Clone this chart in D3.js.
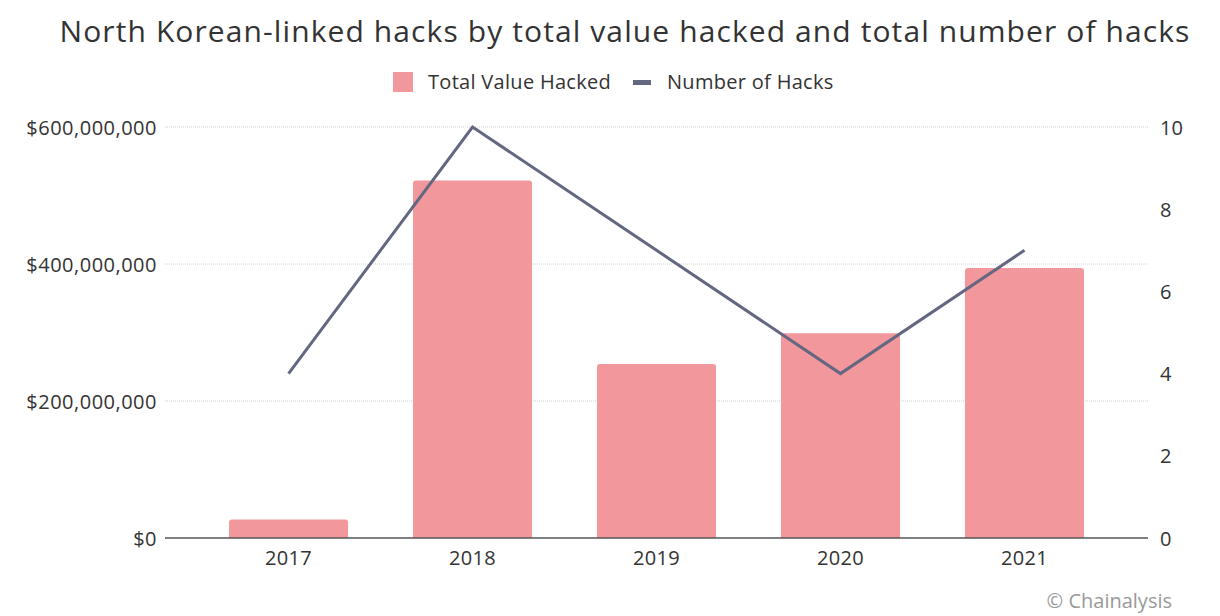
<!DOCTYPE html>
<html>
<head>
<meta charset="utf-8">
<script src="https://cdn.jsdelivr.net/npm/d3@7"></script>
<style>
	body { margin: 0; background: #fff; }
	text { font-family: 'Open Sans', sans-serif; fill: #333; }
	.grid line { stroke: #d0d0d0; stroke-dasharray: 1 1; }
</style>
</head>
<body>
<svg id="chart" width="1220" height="616"></svg>
<script>
// Values
var years = ['2017', '2018', '2019', '2020', '2021'];
var totalValueHacked = [27000000, 522000000, 254000000, 299000000, 394000000];
var numberOfHacks = [4, 10, 7, 4, 7];
var valueTicks = [0, 200000000, 400000000, 600000000];
var countTicks = [0, 2, 4, 6, 8, 10];

var margin = {top: 127, right: 72, bottom: 78, left: 165};
var W = 1220, H = 616;
var svg = d3.select('#chart');

var x = d3.scaleBand().domain(years)
	.range([margin.left, W - margin.right])
	.paddingInner(0.353).paddingOuter(0.348);
var yLeft = d3.scaleLinear().domain([0, 600000000]).range([H - margin.bottom, margin.top]);
var yRight = d3.scaleLinear().domain([0, 10]).range([H - margin.bottom, margin.top]);

// Title
svg.append('text')
	.attr('x', 625).attr('y', 42)
	.attr('text-anchor', 'middle')
	.style('font-size', '30px')
	.style('letter-spacing', '1.1px')
	.text('North Korean-linked hacks by total value hacked and total number of hacks');

// Legend
var legend = svg.append('g');
legend.append('rect').attr('x', 393).attr('y', 72).attr('width', 20).attr('height', 20).attr('fill', '#f2979b');
legend.append('text').attr('x', 428).attr('y', 89).style('font-size', '20px').style('letter-spacing', '0.3px').text('Total Value Hacked');
legend.append('rect').attr('x', 633).attr('y', 80).attr('width', 18).attr('height', 5).attr('fill', '#636780');
legend.append('text').attr('x', 667).attr('y', 89).style('font-size', '20px').style('letter-spacing', '0.3px').text('Number of Hacks');

// Gridlines
svg.append('g').attr('class', 'grid')
	.selectAll('line').data(valueTicks.slice(1)).enter().append('line')
	.attr('x1', margin.left).attr('x2', W - margin.right)
	.attr('y1', function(d) { return yLeft(d); })
	.attr('y2', function(d) { return yLeft(d); });

// Left axis
var fmt = d3.format('$,');
var leftAxis = svg.append('g')
	.attr('transform', 'translate(' + (margin.left - 8) + ',0)')
	.call(d3.axisLeft(yLeft).tickValues(valueTicks).tickSize(0).tickPadding(0).tickFormat(fmt));
leftAxis.select('.domain').remove();
leftAxis.selectAll('text').style('font-size', '20px').style('letter-spacing', '0.5px').attr('fill', '#333').attr('dy', '0.35em');

// Right axis
var rightAxis = svg.append('g')
	.attr('transform', 'translate(' + (W - margin.right + 12) + ',0)')
	.call(d3.axisRight(yRight).tickValues(countTicks).tickSize(0).tickPadding(0));
rightAxis.select('.domain').remove();
rightAxis.selectAll('text').style('font-size', '20px').attr('fill', '#333').attr('dy', '0.35em');

// Bars with slightly rounded tops
svg.append('g').selectAll('path').data(years).enter().append('path')
	.attr('fill', '#f2979b')
	.attr('d', function(d, i) {
		var x0 = x(d), w = x.bandwidth(), y0 = yLeft(totalValueHacked[i]), yb = yLeft(0), r = 3;
		return 'M' + x0 + ',' + yb + 'V' + (y0 + r) + 'Q' + x0 + ',' + y0 + ' ' + (x0 + r) + ',' + y0 +
			'H' + (x0 + w - r) + 'Q' + (x0 + w) + ',' + y0 + ' ' + (x0 + w) + ',' + (y0 + r) + 'V' + yb + 'Z';
	});

// Baseline
svg.append('line')
	.attr('x1', margin.left).attr('x2', W - margin.right)
	.attr('y1', yLeft(0)).attr('y2', yLeft(0))
	.attr('stroke', '#555').attr('stroke-width', 1.5);

// X axis labels
var bottomAxis = svg.append('g')
	.attr('transform', 'translate(0,' + yLeft(0) + ')')
	.call(d3.axisBottom(x).tickSize(0).tickPadding(13));
bottomAxis.select('.domain').remove();
bottomAxis.selectAll('text').style('font-size', '20px').style('letter-spacing', '0.3px').attr('fill', '#333');

// Number of hacks line
var line = d3.line()
	.x(function(d, i) { return x(years[i]) + x.bandwidth() / 2; })
	.y(function(d) { return yRight(d); });
svg.append('path').datum(numberOfHacks)
	.attr('d', line)
	.attr('fill', 'none')
	.attr('stroke', '#636780')
	.attr('stroke-width', 3);

// Source
svg.append('text')
	.attr('x', 1172).attr('y', 608)
	.attr('text-anchor', 'end')
	.style('font-size', '20px')
	.style('fill', '#999')
	.text('\u00a9 Chainalysis');
</script>
</body>
</html>
